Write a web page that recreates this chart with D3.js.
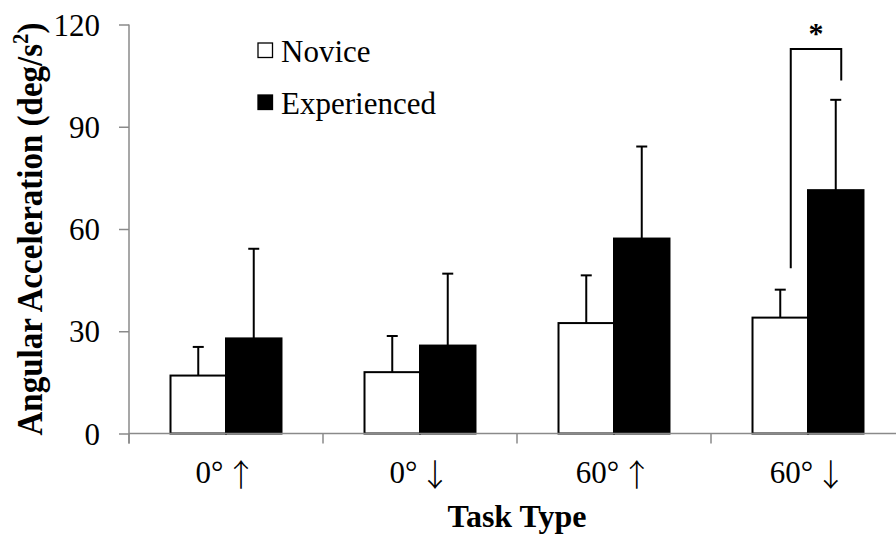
<!DOCTYPE html>
<html>
<head>
<meta charset="utf-8">
<script src="https://cdn.jsdelivr.net/npm/d3@7"></script>
<style>
  html, body { margin: 0; padding: 0; background: #fff; }
  svg { display: block; }
  text { font-family: "Liberation Serif", "Times New Roman", serif; fill: #000; }
  tspan.arrow { font-family: "Noto Sans CJK JP", "Noto Sans CJK SC", sans-serif; font-weight: 300; }
</style>
</head>
<body>
<div id="chart"></div>
<script>
// ---- data ----
const categories = ["0° ↑", "0° ↓", "60° ↑", "60° ↓"];
const seriesNames = ["Novice", "Experienced"];
const noviceMean = [17.0, 18.0, 32.4, 34.0];
const noviceSD = [8.4, 10.6, 14.0, 8.2];
const experiencedMean = [27.9, 25.8, 57.2, 71.4];
const experiencedSD = [26.3, 21.1, 27.0, 26.5];
const yTicks = [0, 30, 60, 90, 120];
const sigCategory = "60° ↓";
const sigLeftEnd = 48.5;   // value where left leg of bracket ends
const sigRightEnd = 103.6; // value where right leg of bracket ends
const sigTop = 112.8;      // value of bracket top
const sigLabel = "*";

// ---- layout ----
const W = 896, H = 535;
const plotLeft = 129, plotBottom = 433.5, plotTop = 24.5;
const bandW = 194;

const svg = d3.select("#chart").append("svg").attr("width", W).attr("height", H);

const x0 = d3.scaleBand().domain(categories).range([plotLeft, plotLeft + bandW * categories.length]).paddingInner(0).paddingOuter(0);
const x1 = d3.scaleBand().domain(seriesNames).range([0, x0.bandwidth()]).paddingInner(0).paddingOuter(0.748);
const y = d3.scaleLinear().domain([0, 120]).range([plotBottom, plotTop]);

const data = categories.map((c, i) => ({
  cat: c,
  vals: [
    { s: "Novice", m: noviceMean[i], sd: noviceSD[i] },
    { s: "Experienced", m: experiencedMean[i], sd: experiencedSD[i] }
  ]
}));

const axisColor = "#8a8a8a";

// bars
const g = svg.append("g");
data.forEach(d => {
  d.vals.forEach(v => {
    const bx = x0(d.cat) + x1(v.s);
    const bw = x1.bandwidth();
    g.append("rect")
      .attr("x", bx).attr("y", y(v.m))
      .attr("width", bw).attr("height", y(0) - y(v.m))
      .attr("fill", v.s === "Novice" ? "#fff" : "#000")
      .attr("stroke", "#000").attr("stroke-width", 2);
    const cx = bx + bw / 2;
    g.append("line").attr("x1", cx).attr("x2", cx).attr("y1", y(v.m)).attr("y2", y(v.m + v.sd))
      .attr("stroke", "#000").attr("stroke-width", 2);
    g.append("line").attr("x1", cx - 5.5).attr("x2", cx + 5.5).attr("y1", y(v.m + v.sd)).attr("y2", y(v.m + v.sd))
      .attr("stroke", "#000").attr("stroke-width", 2);
  });
});

// axes
const yAxis = d3.axisLeft(y).tickValues(yTicks).tickSize(10).tickPadding(19);
const ya = svg.append("g").attr("transform", `translate(${plotLeft},0)`).call(yAxis);
ya.select(".domain").remove();
ya.selectAll(".tick line").attr("stroke", axisColor).attr("stroke-width", 1.5);
ya.selectAll(".tick text").attr("font-size", 31).attr("font-family", "Liberation Serif, serif").attr("dy", "0.34em");
svg.append("line").attr("x1", plotLeft).attr("x2", plotLeft).attr("y1", plotTop).attr("y2", plotBottom + 10)
  .attr("stroke", axisColor).attr("stroke-width", 1.5);

// x axis line & ticks at band boundaries
svg.append("line").attr("x1", plotLeft).attr("x2", W).attr("y1", plotBottom).attr("y2", plotBottom)
  .attr("stroke", axisColor).attr("stroke-width", 1.5);
categories.forEach(c => {
  svg.append("line").attr("x1", x0(c)).attr("x2", x0(c)).attr("y1", plotBottom).attr("y2", plotBottom + 10)
    .attr("stroke", axisColor).attr("stroke-width", 1.5);
  const parts = c.split(" ");
  const t = svg.append("text").attr("x", x0(c) + x0.bandwidth() / 2).attr("y", 483.3)
    .attr("text-anchor", "middle").attr("font-size", 31);
  t.append("tspan").text(parts[0]);
  t.append("tspan").attr("class", "arrow").attr("dx", 2).attr("dy", 3).text(parts[1]);
});

// axis titles
svg.append("text").attr("x", plotLeft + bandW * 2).attr("y", 526.5)
  .attr("text-anchor", "middle").attr("font-size", 32).attr("font-weight", "bold").text("Task Type");
const yt = svg.append("text").attr("transform", `translate(42,${(plotTop + plotBottom) / 2}) rotate(-90) scale(1,1.1)`)
  .attr("text-anchor", "middle").attr("font-size", 33).attr("font-weight", "bold");
yt.append("tspan").text("Angular Acceleration (deg/s");
yt.append("tspan").attr("font-size", 21).attr("dy", -13).text("2");
yt.append("tspan").attr("dy", 13).text(")");

// legend
const legend = svg.append("g");
seriesNames.forEach((s, i) => {
  const ly = 43 + i * 52;
  legend.append("rect").attr("x", 258).attr("y", ly).attr("width", 14.5).attr("height", 14.5)
    .attr("fill", s === "Novice" ? "#fff" : "#000").attr("stroke", "#000").attr("stroke-width", 1.3);
  legend.append("text").attr("x", 281).attr("y", ly + 18.5).attr("font-size", 31).text(s);
});

// significance bracket
const nX = x0(sigCategory) + x1("Novice") + x1.bandwidth() / 2 + 10.5;
const eX = x0(sigCategory) + x1("Experienced") + x1.bandwidth() / 2 + 5.5;
svg.append("path")
  .attr("d", `M${nX},${y(sigLeftEnd)} L${nX},${y(sigTop)} L${eX},${y(sigTop)} L${eX},${y(sigRightEnd)}`)
  .attr("fill", "none").attr("stroke", "#000").attr("stroke-width", 2);
svg.append("text").attr("x", (nX + eX) / 2).attr("y", 43).attr("text-anchor", "middle")
  .attr("font-size", 30).attr("font-weight", "bold").text(sigLabel);
</script>
</body>
</html>
